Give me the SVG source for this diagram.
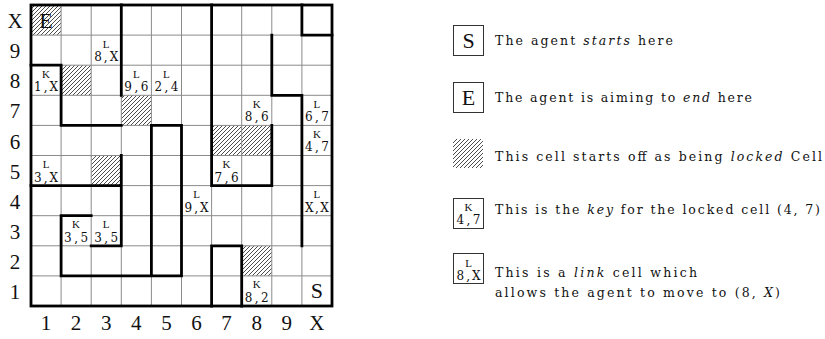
<svg xmlns="http://www.w3.org/2000/svg" width="825" height="339" viewBox="0 0 825 339">
<style>
.bg{fill:#fff}
.thin{stroke:#8a8a8a;stroke-width:1;fill:none}
.wall{stroke:#000;stroke-width:2.8;fill:none;stroke-linecap:square}
.border{stroke:#000;stroke-width:2.8;fill:none}
.ax{font-family:"Liberation Serif","DejaVu Serif",serif;font-size:21px;fill:#111;text-anchor:middle}
.big{font-family:"Liberation Serif","DejaVu Serif",serif;font-size:22px;fill:#111;text-anchor:middle}
.lt{font-family:"Liberation Serif","DejaVu Serif",serif;font-size:11px;fill:#111;text-anchor:middle}
.co{font-family:"DejaVu Serif","Liberation Serif",serif;font-size:12px;fill:#111;text-anchor:middle}
.leg{font-family:"DejaVu Serif","Liberation Serif",serif;font-size:12.5px;fill:#111}
.lbox{fill:#fff;stroke:#333;stroke-width:1}
.hatch{fill:url(#hatch)}
</style>
<defs>
<pattern id="hatch" patternUnits="userSpaceOnUse" width="4" height="4">
<rect width="4" height="4" fill="#fff"/>
<path d="M-1,1 L1,-1 M0,4 L4,0 M3,5 L5,3" stroke="#000" stroke-width="0.7"/>
</pattern>
</defs>
<rect class="bg" x="0" y="0" width="825" height="339"/>

<g id="grid">
<g id="hatched-cells">
<rect class="hatch" x="31" y="5" width="30.1" height="30.1"/>
<rect class="hatch" x="61.1" y="65.2" width="30.1" height="30.1"/>
<rect class="hatch" x="121.3" y="95.3" width="30.1" height="30.1"/>
<rect class="hatch" x="91.2" y="155.5" width="30.1" height="30.1"/>
<rect class="hatch" x="211.6" y="125.4" width="30.1" height="30.1"/>
<rect class="hatch" x="241.7" y="125.4" width="30.1" height="30.1"/>
<rect class="hatch" x="241.7" y="245.8" width="30.1" height="30.1"/>
</g>
<path class="thin" d="M61.1,5V306 M91.2,5V306 M121.3,5V306 M151.4,5V306 M181.5,5V306 M211.6,5V306 M241.7,5V306 M271.8,5V306 M301.9,5V306 M31,35.1H332 M31,65.2H332 M31,95.3H332 M31,125.4H332 M31,155.5H332 M31,185.6H332 M31,215.7H332 M31,245.8H332 M31,275.9H332"/>
</g>

<g id="walls">
<rect class="border" x="31" y="5" width="301" height="301"/>
<path class="wall" d="M121.3,5V95.3 M121.3,155.5V245.8 M61.1,65.2V125.4 M61.1,215.7V275.9 M151.4,125.4V275.9 M181.5,125.4V275.9 M211.6,5V185.6 M211.6,245.8V306 M241.7,245.8V306 M271.8,125.4V185.6 M271.8,35.1V95.3 M301.9,5V35.1 M301.9,95.3V245.8 M31,65.2H61.1 M61.1,125.4H121.3 M151.4,125.4H181.5 M31,185.6H121.3 M61.1,215.7H91.2 M91.2,245.8H121.3 M61.1,275.9H181.5 M211.6,185.6H271.8 M211.6,245.8H241.7 M271.8,95.3H301.9 M301.9,35.1H332"/>
</g>

<g id="cell-E" transform="translate(31,5)"><text class="big" x="15" y="23">E</text></g>
<g id="cell-S" transform="translate(301.9,275.9)"><text class="big" x="15" y="22.5">S</text></g>
<g id="cell-3-9" transform="translate(91.2,35.1)"><text class="lt" x="15" y="12.5">L</text><text class="co" x="15" y="26" textLength="24" lengthAdjust="spacing">8,X</text></g>
<g id="cell-1-8" transform="translate(31,65.2)"><text class="lt" x="15" y="12.5">K</text><text class="co" x="15" y="26" textLength="24" lengthAdjust="spacing">1,X</text></g>
<g id="cell-4-8" transform="translate(121.3,65.2)"><text class="lt" x="15" y="12.5">L</text><text class="co" x="15" y="26" textLength="24" lengthAdjust="spacing">9,6</text></g>
<g id="cell-5-8" transform="translate(151.4,65.2)"><text class="lt" x="15" y="12.5">L</text><text class="co" x="15" y="26" textLength="24" lengthAdjust="spacing">2,4</text></g>
<g id="cell-8-7" transform="translate(241.7,95.3)"><text class="lt" x="15" y="12.5">K</text><text class="co" x="15" y="26" textLength="24" lengthAdjust="spacing">8,6</text></g>
<g id="cell-10-7" transform="translate(301.9,95.3)"><text class="lt" x="15" y="12.5">L</text><text class="co" x="15" y="26" textLength="24" lengthAdjust="spacing">6,7</text></g>
<g id="cell-10-6" transform="translate(301.9,125.4)"><text class="lt" x="15" y="12.5">K</text><text class="co" x="15" y="26" textLength="24" lengthAdjust="spacing">4,7</text></g>
<g id="cell-1-5" transform="translate(31,155.5)"><text class="lt" x="15" y="12.5">L</text><text class="co" x="15" y="26" textLength="24" lengthAdjust="spacing">3,X</text></g>
<g id="cell-7-5" transform="translate(211.6,155.5)"><text class="lt" x="15" y="12.5">K</text><text class="co" x="15" y="26" textLength="24" lengthAdjust="spacing">7,6</text></g>
<g id="cell-6-4" transform="translate(181.5,185.6)"><text class="lt" x="15" y="12.5">L</text><text class="co" x="15" y="26" textLength="24" lengthAdjust="spacing">9,X</text></g>
<g id="cell-10-4" transform="translate(301.9,185.6)"><text class="lt" x="15" y="12.5">L</text><text class="co" x="15" y="26" textLength="24" lengthAdjust="spacing">X,X</text></g>
<g id="cell-2-3" transform="translate(61.1,215.7)"><text class="lt" x="15" y="12.5">K</text><text class="co" x="15" y="26" textLength="24" lengthAdjust="spacing">3,5</text></g>
<g id="cell-3-3" transform="translate(91.2,215.7)"><text class="lt" x="15" y="12.5">L</text><text class="co" x="15" y="26" textLength="24" lengthAdjust="spacing">3,5</text></g>
<g id="cell-8-1" transform="translate(241.7,275.9)"><text class="lt" x="15" y="12.5">K</text><text class="co" x="15" y="26" textLength="24" lengthAdjust="spacing">8,2</text></g>

<g id="row-labels">
<text class="ax" x="15" y="28">X</text>
<text class="ax" x="15" y="58">9</text>
<text class="ax" x="15" y="88">8</text>
<text class="ax" x="15" y="118">7</text>
<text class="ax" x="15" y="148.5">6</text>
<text class="ax" x="15" y="178.5">5</text>
<text class="ax" x="15" y="208.5">4</text>
<text class="ax" x="15" y="238.5">3</text>
<text class="ax" x="15" y="268.5">2</text>
<text class="ax" x="15" y="298.5">1</text>
</g>
<g id="col-labels">
<text class="ax" x="46" y="330">1</text>
<text class="ax" x="76.1" y="330">2</text>
<text class="ax" x="106.2" y="330">3</text>
<text class="ax" x="136.3" y="330">4</text>
<text class="ax" x="166.4" y="330">5</text>
<text class="ax" x="196.5" y="330">6</text>
<text class="ax" x="226.6" y="330">7</text>
<text class="ax" x="256.7" y="330">8</text>
<text class="ax" x="286.8" y="330">9</text>
<text class="ax" x="316.9" y="330">X</text>
</g>

<g id="legend-start">
<rect class="lbox" x="453.5" y="25.5" width="30" height="30"/>
<text class="big" x="468.5" y="48">S</text>
<text class="leg" x="495" y="45" textLength="178" lengthAdjust="spacing">The agent <tspan font-style="italic">starts</tspan> here</text>
</g>
<g id="legend-end">
<rect class="lbox" x="453.5" y="82.5" width="30" height="30"/>
<text class="big" x="468.5" y="105">E</text>
<text class="leg" x="495" y="102" textLength="257" lengthAdjust="spacing">The agent is aiming to <tspan font-style="italic">end</tspan> here</text>
</g>
<g id="legend-locked">
<rect class="hatch" x="453" y="139" width="30" height="29"/>
<text class="leg" x="495" y="161" textLength="327" lengthAdjust="spacing">This cell starts off as being <tspan font-style="italic">locked</tspan> Cell</text>
</g>
<g id="legend-key">
<rect class="lbox" x="453.5" y="198.5" width="30" height="30"/>
<text class="lt" x="468.5" y="211">K</text>
<text class="co" x="468.5" y="224" textLength="24" lengthAdjust="spacing">4,7</text>
<text class="leg" x="495" y="214" textLength="325" lengthAdjust="spacing">This is the <tspan font-style="italic">key</tspan> for the locked cell (4, 7)</text>
</g>
<g id="legend-link">
<rect class="lbox" x="453.5" y="253.5" width="30" height="30"/>
<text class="lt" x="468.5" y="267">L</text>
<text class="co" x="468.5" y="280" textLength="24" lengthAdjust="spacing">8,X</text>
<text class="leg" x="495" y="277" textLength="202" lengthAdjust="spacing">This is a <tspan font-style="italic">link</tspan> cell which</text>
<text class="leg" x="495" y="297" textLength="285" lengthAdjust="spacing">allows the agent to move to (8, <tspan font-style="italic">X</tspan>)</text>
</g>
</svg>
